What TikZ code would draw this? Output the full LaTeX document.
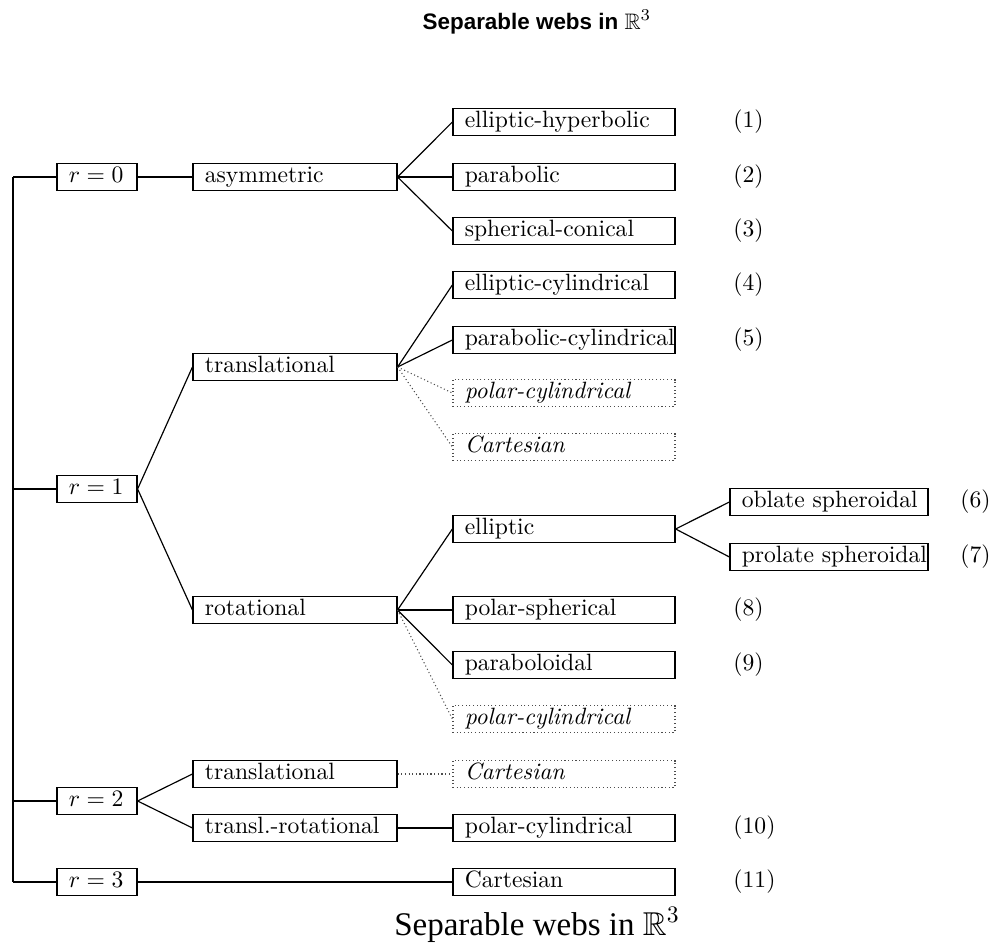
\documentclass[tikz,border=0pt]{standalone}
\usepackage{fontspec}
\usepackage{amssymb}
\newfontfamily\titlefont{Liberation Sans}
\newfontfamily\capfont{Liberation Serif}
\begin{document}
\begin{tikzpicture}[x=0.4237pt,y=-0.4237pt,
  base/.style={line width=0.5pt, inner xsep=0pt, inner ysep=0pt, minimum height=11.4pt,
    text height=7pt, text depth=2pt, align=left, execute at begin node={\hspace*{5pt}}},
  sbox/.style={base, draw},
  dbox/.style={base, draw=black!70, dash pattern=on 0.45pt off 1.1pt, font=\itshape},
  rb/.style={sbox, text width=33.9pt},
  c2/.style={sbox, text width=86.4pt},
  c3/.style={sbox, text width=94.1pt},
  c3d/.style={dbox, text width=94.1pt},
  c4/.style={sbox, text width=83.9pt},
  num/.style={anchor=west, inner sep=0pt},
  edge/.style={line width=0.5pt},
  dedge/.style={line width=0.45pt, draw=black!70, dash pattern=on 0.45pt off 1.1pt}
]
\useasboundingbox (0,0) rectangle (1007,944);

\node (title) at (537,22) {\titlefont\bfseries\fontsize{9.5}{11}\selectfont Separable webs in $\mathbb{R}^3$};
\node (cap) at (537,925) {\capfont\fontsize{14}{16}\selectfont Separable webs in $\mathbb{R}^3$};

% r boxes
\node[rb] (r0) at (97,177) {$r=0$};
\node[rb] (r1) at (97,489) {$r=1$};
\node[rb] (r2) at (97,801) {$r=2$};
\node[rb] (r3) at (97,882) {$r=3$};

% column 2
\node[c2] (asym) at (295,177) {asymmetric};
\node[c2] (trans) at (295,367) {translational};
\node[c2] (rot) at (295,610) {rotational};
\node[c2] (trans2) at (295,774) {translational};
\node[c2] (trot) at (295,828) {transl.-rotational};

% column 3
\node[c3] (eh) at (564,122) {elliptic-hyperbolic};
\node[c3] (par) at (564,177) {parabolic};
\node[c3] (sph) at (564,231) {spherical-conical};
\node[c3] (ecyl) at (564,285) {elliptic-cylindrical};
\node[c3] (pcyl) at (564,340) {parabolic-cylindrical};
\node[c3d] (polc1) at (564,393) {polar-cylindrical};
\node[c3d] (cart1) at (564,447) {Cartesian};
\node[c3] (ell) at (564,529) {elliptic};
\node[c3] (psph) at (564,610) {polar-spherical};
\node[c3] (pbd) at (564,665) {paraboloidal};
\node[c3d] (polc2) at (564,719) {polar-cylindrical};
\node[c3d] (cart2) at (564,774) {Cartesian};
\node[c3] (polc3) at (564,828) {polar-cylindrical};
\node[c3] (cart3) at (564,882) {Cartesian};

% column 4
\node[c4] (obl) at (829,502) {oblate spheroidal};
\node[c4] (prol) at (829,557) {prolate spheroidal};

% numbers
\node[num] (n1) at (733,122) {(1)};
\node[num] (n2) at (733,177) {(2)};
\node[num] (n3) at (733,231) {(3)};
\node[num] (n4) at (733,285) {(4)};
\node[num] (n5) at (733,340) {(5)};
\node[num] (n6) at (960,502) {(6)};
\node[num] (n7) at (960,557) {(7)};
\node[num] (n8) at (733,610) {(8)};
\node[num] (n9) at (733,665) {(9)};
\node[num] (n10) at (733,828) {(10)};
\node[num] (n11) at (733,882) {(11)};

% spine
\coordinate (spine) at (13,0);
\draw[edge] (r0.west -| spine) -- (r3.west -| spine);
\foreach \r in {r0,r1,r2,r3} \draw[edge] (\r.west -| spine) -- (\r.west);

% connectors
\draw[edge] (r0.east) -- (asym.west);
\foreach \t in {eh,par,sph} \draw[edge] (asym.east) -- (\t.west);
\draw[edge] (r1.east) -- (trans.west);
\draw[edge] (r1.east) -- (rot.west);
\foreach \t in {ecyl,pcyl} \draw[edge] (trans.east) -- (\t.west);
\foreach \t in {polc1,cart1} \draw[dedge] (trans.east) -- (\t.west);
\foreach \t in {ell,psph,pbd} \draw[edge] (rot.east) -- (\t.west);
\draw[dedge] (rot.east) -- (polc2.west);
\draw[edge] (ell.east) -- (obl.west);
\draw[edge] (ell.east) -- (prol.west);
\draw[edge] (r2.east) -- (trans2.west);
\draw[edge] (r2.east) -- (trot.west);
\draw[dedge] (trans2.east) -- (cart2.west);
\draw[edge] (trot.east) -- (polc3.west);
\draw[edge] (r3.east) -- (cart3.west);
\end{tikzpicture}
\end{document}
